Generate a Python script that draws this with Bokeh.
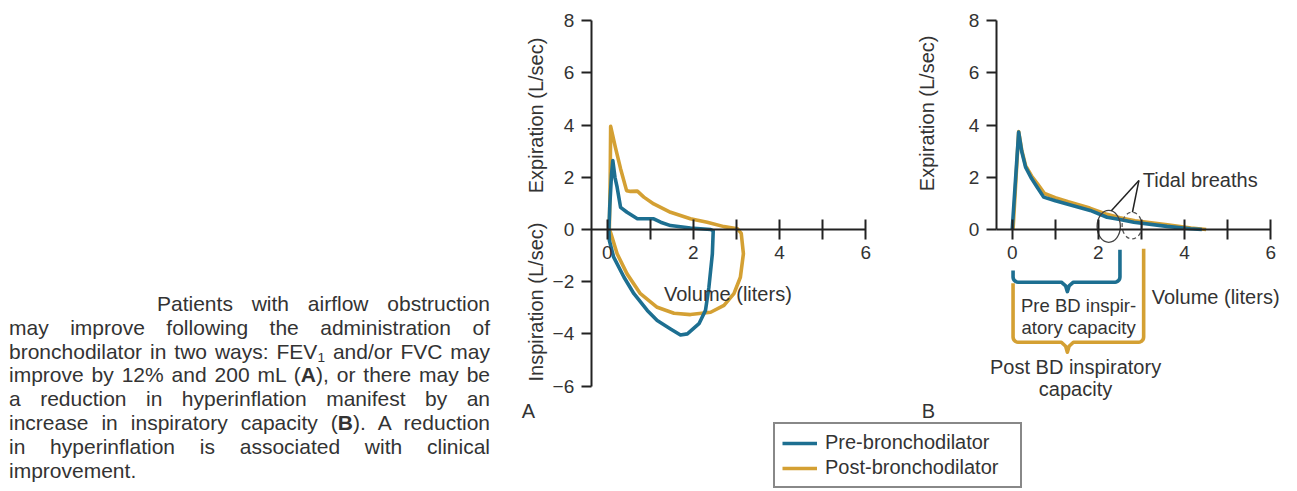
import numpy as np
from bokeh.plotting import figure
from bokeh.models import Range1d, LinearAxis, FixedTicker, Div, Legend, LegendItem
from bokeh.layouts import row
from bokeh.embed import file_html
from bokeh.resources import INLINE
from bokeh.core.properties import value

# ---------------- data ----------------
# Panel A: flow-volume loops (volume in liters, flow in L/sec; + expiration, - inspiration)
pre_a_volume = [0.04, 0.06, 0.10, 0.13, 0.18, 0.23, 0.31, 0.46, 0.70, 1.08, 1.24, 1.47, 1.93, 2.40, 2.46,
                2.44, 2.36, 2.28, 2.13, 1.86, 1.70, 1.47, 1.16, 0.93, 0.62, 0.39, 0.15, 0.05, 0.04]
pre_a_flow = [0.00, 0.90, 2.10, 2.64, 2.00, 1.62, 0.85, 0.66, 0.41, 0.41, 0.28, 0.15, 0.06, 0.00, -0.05,
              -0.93, -2.21, -3.10, -3.61, -4.00, -4.04, -3.81, -3.49, -3.10, -2.46, -1.83, -1.06, -0.42, 0.00]
post_a_volume = [0.05, 0.07, 0.08, 0.19, 0.31, 0.45, 0.54, 0.70, 0.85, 1.08, 1.47, 1.93, 2.32, 2.71, 3.02,
                 3.11, 3.16, 3.09, 2.94, 2.71, 2.40, 1.93, 1.55, 1.16, 0.77, 0.46, 0.23, 0.09, 0.05]
post_a_flow = [0.00, 2.00, 3.95, 3.15, 2.33, 1.49, 1.46, 1.47, 1.24, 0.98, 0.66, 0.41, 0.28, 0.11, 0.03,
               -0.15, -0.93, -1.83, -2.46, -2.91, -3.17, -3.26, -3.21, -2.98, -2.46, -1.70, -0.93, -0.17, 0.00]

# Panel B: expiratory limbs
pre_b_volume = [0.00, 0.15, 0.22, 0.31, 0.45, 0.58, 0.73, 1.00, 1.27, 1.81, 2.20, 2.50, 2.82, 3.59, 4.13, 4.40]
pre_b_flow = [0.00, 3.73, 3.00, 2.39, 1.95, 1.62, 1.24, 1.10, 0.98, 0.73, 0.47, 0.38, 0.28, 0.12, 0.03, 0.00]
post_b_volume = [0.02, 0.15, 0.22, 0.31, 0.45, 0.60, 0.75, 1.00, 1.30, 1.80, 2.20, 2.50, 2.85, 3.60, 4.15, 4.50]
post_b_flow = [0.00, 3.75, 3.05, 2.45, 2.05, 1.72, 1.38, 1.22, 1.06, 0.82, 0.58, 0.45, 0.33, 0.18, 0.06, 0.00]

# inspiratory capacities (liters) and tidal breath loops
pre_ic = 2.50
post_ic = 3.05
tidal_volume = [2.24, 2.78]
tidal_flow = [0.12, 0.15]

x_ticks = [0, 1, 2, 3, 4, 5, 6]
x_tick_labels = {0: "0", 1: "", 2: "2", 3: "", 4: "4", 5: "", 6: "6"}
y_ticks_a = [-6, -4, -2, 0, 2, 4, 6, 8]
y_ticks_b = [0, 2, 4, 6, 8]
y_tick_labels = {-6: "\u22126", -4: "\u22124", -2: "\u22122", 0: "0", 2: "2", 4: "4", 6: "6", 8: "8"}

series_names = ["Pre-bronchodilator", "Post-bronchodilator"]
caption_lines = [
    "Patients with airflow obstruction",
    "may improve following the administration of",
    "bronchodilator in two ways: FEV<sub>1</sub> and/or FVC may",
    "improve by 12% and 200 mL (<b>A</b>), or there may be",
    "a reduction in hyperinflation manifest by an",
    "increase in inspiratory capacity (<b>B</b>). A reduction",
    "in hyperinflation is associated with clinical",
    "improvement.",
]

# ---------------- styling ----------------
BLUE = "#1d6f91"
GOLD = "#d4a033"
INK = "#222222"
TXT = "#333333"
FONT = "Liberation Sans"
LW = 3.6

# ---------------- figure ----------------
CAP_W = 520
W, H = 777, 491
PX_X = 43.1   # pixels per liter
PX_Y = 26.1   # pixels per L/sec
ax0_px = 86.7      # canvas x of panel A volume 0
bx0_px = 491.7     # canvas x of panel B volume 0
y0_px = 229.0      # canvas y (from top) of flow 0

p = figure(width=W, height=H, output_backend="svg", toolbar_location=None,
           x_axis_type=None, y_axis_type=None,
           x_range=Range1d(-ax0_px / PX_X, (W - ax0_px) / PX_X),
           y_range=Range1d(-(H - y0_px) / PX_Y, y0_px / PX_Y),
           min_border_left=0, min_border_right=0, min_border_top=0, min_border_bottom=0,
           margin=0)
p.extra_x_ranges = {"B": Range1d(-bx0_px / PX_X, (W - bx0_px) / PX_X)}
p.outline_line_color = None
p.xgrid.visible = False
p.ygrid.visible = False
p.background_fill_color = "white"
p.border_fill_color = "white"


def style_axis(ax):
    ax.axis_line_color = INK
    ax.axis_line_width = 2
    ax.major_tick_line_color = INK
    ax.major_tick_line_width = 2
    ax.minor_tick_line_color = None
    ax.major_label_text_font = FONT
    ax.major_label_text_font_size = "19px"
    ax.major_label_text_color = TXT


# Panel A axes
ax_ax = LinearAxis(fixed_location=0, bounds=(-0.37, 6), ticker=FixedTicker(ticks=x_ticks),
                   major_label_overrides=x_tick_labels, major_tick_in=10, major_tick_out=10,
                   major_label_standoff=6)
style_axis(ax_ax)
p.add_layout(ax_ax, "below")
ay_ax = LinearAxis(fixed_location=-0.37, bounds=(-6, 8), ticker=FixedTicker(ticks=y_ticks_a),
                   major_label_overrides=y_tick_labels, major_tick_in=0, major_tick_out=10,
                   major_label_standoff=7)
style_axis(ay_ax)
p.add_layout(ay_ax, "left")

# Panel B axes
bx_ax = LinearAxis(x_range_name="B", fixed_location=0, bounds=(-0.37, 6),
                   ticker=FixedTicker(ticks=x_ticks), major_label_overrides=x_tick_labels,
                   major_tick_in=10, major_tick_out=10, major_label_standoff=6)
style_axis(bx_ax)
p.add_layout(bx_ax, "below")
by_ax = LinearAxis(x_range_name="B", fixed_location=-0.37, bounds=(0, 8),
                   ticker=FixedTicker(ticks=y_ticks_b), major_label_overrides=y_tick_labels,
                   major_tick_in=0, major_tick_out=10, major_label_standoff=7)
style_axis(by_ax)
p.add_layout(by_ax, "left")

# curves
post_a = p.line(post_a_volume, post_a_flow, line_color=GOLD, line_width=LW, line_join="round")
pre_a = p.line(pre_a_volume, pre_a_flow, line_color=BLUE, line_width=LW, line_join="round")
p.line(post_b_volume, post_b_flow, line_color=GOLD, line_width=LW, line_join="round", x_range_name="B")
p.line(pre_b_volume, pre_b_flow, line_color=BLUE, line_width=LW, line_join="round", x_range_name="B")


# braces for inspiratory capacity
def brace(x0, x1, y_left, y_right, y_bar, x_cusp, depth):
    rx, ry = 0.12, 0.2
    t = np.linspace(np.pi, 1.5 * np.pi, 6)
    xs = [x0]
    ys = [y_left]
    xs += list(x0 + rx + rx * np.cos(t))
    ys += list(y_bar + ry + ry * np.sin(t))
    xs += [x_cusp - 0.14, x_cusp - 0.04, x_cusp, x_cusp + 0.04, x_cusp + 0.14]
    ys += [y_bar, y_bar - depth * 0.4, y_bar - depth, y_bar - depth * 0.4, y_bar]
    t2 = np.linspace(1.5 * np.pi, 2 * np.pi, 6)
    xs += list(x1 - rx + rx * np.cos(t2))
    ys += list(y_bar + ry + ry * np.sin(t2))
    xs += [x1]
    ys += [y_right]
    return xs, ys


bx, by = brace(0.02, pre_ic, -1.57, -0.78, -2.02, 1.28, 0.36)
p.line(bx, by, line_color=BLUE, line_width=LW, line_join="round", x_range_name="B")
gx, gy = brace(0.02, post_ic, -2.06, -0.74, -4.32, 1.28, 0.38)
p.line(gx, gy, line_color=GOLD, line_width=LW, line_join="round", x_range_name="B")

# tidal breath loops
p.ellipse(x=[tidal_volume[0]], y=[tidal_flow[0]], width=0.54, height=1.22, fill_color=None,
          line_color="#444444", line_width=1.3, x_range_name="B")
p.ellipse(x=[tidal_volume[1]], y=[tidal_flow[1]], width=0.46, height=1.02, fill_color=None,
          line_color="#555555", line_width=1.3, line_dash="4 3", x_range_name="B")
p.segment(x0=[2.94, 2.94], y0=[1.88, 1.88], x1=[2.30, 2.79], y1=[0.72, 0.66],
          line_color="#222222", line_width=1.5, x_range_name="B")


def txt(x, y, s, size="20px", align="center", baseline="middle", angle=0.0, rng="default", color=TXT):
    kw = {}
    if rng != "default":
        kw["x_range_name"] = rng
    p.text(x=[x], y=[y], text=[s], text_font=value(FONT), text_font_size=size,
           text_align=align, text_baseline=baseline, angle=angle, text_color=color, **kw)


# panel A texts
txt(-1.66, 4.37, "Expiration (L/sec)", angle=np.pi / 2)
txt(-1.66, -2.78, "Inspiration (L/sec)", angle=np.pi / 2)
txt(2.80, -2.46, "Volume (liters)")
txt(-1.98, -6.95, "A", align="left")

# panel B texts
txt(-1.98, 4.45, "Expiration (L/sec)", angle=np.pi / 2, rng="B")
txt(3.03, 1.88, "Tidal breaths", align="left", rng="B")
txt(4.72, -2.57, "Volume (liters)", rng="B")
txt(1.54, -2.91, "Pre BD inspir-", size="18.5px", rng="B")
txt(1.54, -3.74, "atory capacity", size="18.5px", rng="B")
txt(1.47, -5.27, "Post BD inspiratory", rng="B")
txt(1.47, -6.10, "capacity", rng="B")
txt(-2.10, -6.95, "B", align="left", rng="B")

legend = Legend(items=[LegendItem(label=series_names[0], renderers=[pre_a]),
                       LegendItem(label=series_names[1], renderers=[post_a])],
                location=(253, 3), orientation="vertical",
                label_text_font=FONT, label_text_font_size="20px", label_text_color=TXT,
                glyph_width=35, glyph_height=20, label_height=20, label_width=188,
                label_standoff=8, spacing=2, padding=7, margin=0,
                border_line_color="#111111", border_line_width=2,
                background_fill_color="white", background_fill_alpha=1.0)
p.add_layout(legend)

# caption
parts = []
for i, line in enumerate(caption_lines):
    if i == 0:
        st = "text-align:justify;text-align-last:justify;padding-left:148px;white-space:nowrap;"
    elif i == len(caption_lines) - 1:
        st = "text-align:left;white-space:nowrap;"
    else:
        st = "text-align:justify;text-align-last:justify;"
    parts.append('<div style="%s">%s</div>' % (st, line))
caption_html = ('<div style="font-family:\'Liberation Sans\',Arial,sans-serif;font-size:21px;'
                'line-height:23.8px;color:#333333;padding-top:292px;margin-left:9px;width:481px;">'
                + "".join(parts).replace("<sub>", '<sub style="font-size:65%;line-height:0;vertical-align:-0.2em;">')
                + "</div>")
caption = Div(text=caption_html, width=CAP_W, height=H, margin=0)

layout = row(caption, p)
open("out.html", "w").write(file_html(layout, INLINE))
